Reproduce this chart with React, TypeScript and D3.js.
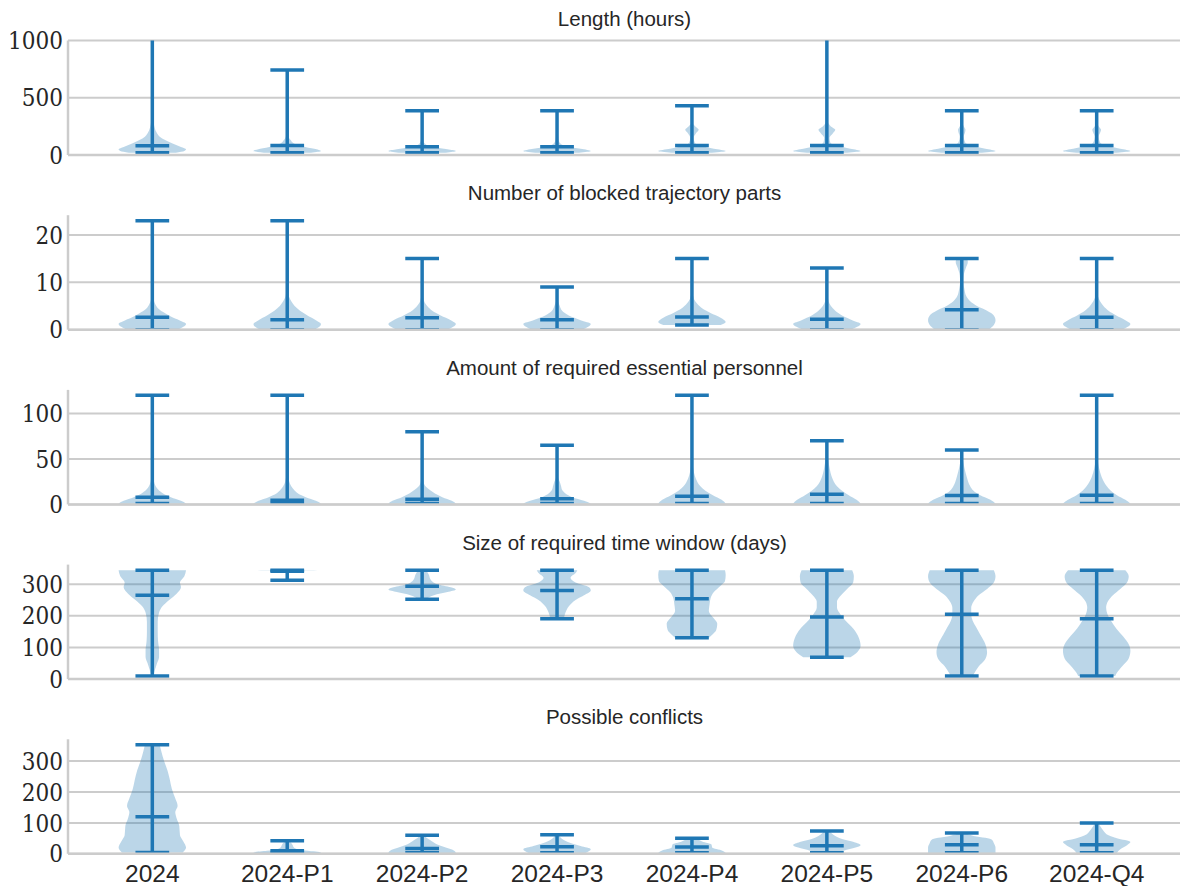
import React from 'react';
import * as d3 from 'd3';

const categories = ['2024', '2024-P1', '2024-P2', '2024-P3', '2024-P4', '2024-P5', '2024-P6', '2024-Q4'];

// Length (hours) -- 2024 and P5 go past the clipped top
const lengthTicks = [0, 500, 1000];
const lengthMin = [20, 20, 20, 20, 20, 20, 20, 20];
const lengthMean = [80, 82, 73, 73, 82, 82, 82, 82];
const lengthMax = [1200, 743, 386, 386, 430, 1200, 386, 386];
// [value, relative half width]
const lengthShape = [
  [[20, 0.7], [35, 0.95], [50, 1], [70, 0.85], [100, 0.6], [130, 0.38], [160, 0.22], [200, 0.12], [250, 0.06], [300, 0.03], [400, 0.012], [600, 0.005], [1200, 0]],
  [[20, 0.7], [35, 1], [55, 0.8], [75, 0.45], [100, 0.2], [130, 0.1], [160, 0.04], [250, 0.01], [743, 0]],
  [[20, 0.7], [35, 1], [50, 0.75], [70, 0.35], [90, 0.12], [120, 0.04], [200, 0.01], [386, 0]],
  [[20, 0.65], [35, 1], [55, 0.7], [75, 0.3], [100, 0.1], [140, 0.04], [250, 0.01], [386, 0]],
  [[20, 0.6], [35, 1], [55, 0.65], [80, 0.25], [110, 0.08], [150, 0.05], [190, 0.12], [220, 0.2], [250, 0.1], [280, 0.02], [430, 0]],
  [[20, 0.6], [35, 1], [55, 0.7], [80, 0.3], [110, 0.1], [150, 0.08], [190, 0.18], [220, 0.25], [250, 0.12], [290, 0.03], [500, 0.005], [1200, 0]],
  [[20, 0.6], [35, 1], [55, 0.7], [80, 0.3], [110, 0.1], [160, 0.06], [200, 0.1], [220, 0.11], [250, 0.06], [290, 0.01], [386, 0]],
  [[20, 0.6], [35, 1], [55, 0.7], [80, 0.3], [110, 0.1], [160, 0.06], [200, 0.11], [220, 0.13], [250, 0.06], [290, 0.01], [386, 0]],
];

// Number of blocked trajectory parts
const blockedTicks = [0, 10, 20];
const blockedMin = [0, 0, 0, 0, 1, 0, 0, 0];
const blockedMean = [2.6, 2.1, 2.5, 2.1, 2.7, 2.2, 4.2, 2.6];
const blockedMax = [23, 23, 15, 9, 15, 13, 15, 15];
const blockedShape = [
  [[0, 0.75], [0.6, 0.92], [1.2, 1], [2, 0.8], [2.8, 0.55], [3.5, 0.37], [4.3, 0.2], [5.2, 0.1], [6.3, 0.04], [9, 0.01], [23, 0]],
  [[0, 0.8], [0.6, 0.95], [1.2, 1], [2, 0.85], [3, 0.6], [4, 0.38], [5, 0.22], [6, 0.12], [7, 0.05], [9, 0.015], [23, 0]],
  [[0, 0.75], [0.6, 0.92], [1.2, 1], [2, 0.85], [3, 0.55], [4, 0.3], [5, 0.15], [6, 0.06], [8, 0.015], [15, 0]],
  [[0, 0.75], [0.6, 0.92], [1.2, 1], [2, 0.7], [3, 0.35], [4, 0.15], [5, 0.08], [6, 0.03], [7, 0.01], [9, 0]],
  [[1, 0.85], [1.6, 1], [2.5, 0.85], [3.5, 0.55], [4.5, 0.3], [5.5, 0.15], [6.5, 0.06], [8, 0.02], [15, 0]],
  [[0, 0.7], [0.6, 0.9], [1.2, 1], [2, 0.75], [3, 0.45], [4, 0.25], [5, 0.12], [6, 0.05], [8, 0.015], [13, 0]],
  [[0, 0.8], [1, 0.95], [2, 1], [3, 0.95], [4, 0.75], [5, 0.45], [6, 0.25], [7, 0.14], [8.5, 0.08], [10, 0.05], [11.5, 0.06], [13, 0.12], [14.3, 0.18], [15, 0.16]],
  [[0, 0.75], [0.6, 0.92], [1.2, 1], [2, 0.85], [3, 0.58], [4, 0.35], [5, 0.2], [6, 0.1], [7, 0.04], [9, 0.01], [15, 0]],
];

// Amount of required essential personnel
const personnelTicks = [0, 50, 100];
const personnelMin = [1, 1, 1, 1, 1, 1, 1, 1];
const personnelMean = [8, 4.7, 5.8, 6.2, 9.1, 11.3, 9.9, 10.2];
const personnelMax = [120, 120, 80, 65, 120, 70, 60, 120];
const personnelShape = [
  [[1, 1], [4, 0.85], [8, 0.55], [12, 0.32], [16, 0.18], [20, 0.1], [25, 0.05], [35, 0.02], [60, 0.008], [120, 0]],
  [[1, 1], [4, 0.85], [8, 0.55], [12, 0.32], [16, 0.2], [20, 0.12], [25, 0.06], [35, 0.02], [60, 0.008], [120, 0]],
  [[1, 1], [4, 0.88], [8, 0.6], [12, 0.38], [16, 0.22], [20, 0.1], [25, 0.04], [35, 0.015], [80, 0]],
  [[1, 1], [4, 0.8], [8, 0.45], [12, 0.25], [16, 0.15], [20, 0.12], [25, 0.08], [30, 0.03], [40, 0.01], [65, 0]],
  [[1, 1], [5, 0.88], [10, 0.62], [15, 0.4], [20, 0.25], [28, 0.12], [35, 0.06], [45, 0.025], [70, 0.008], [120, 0]],
  [[1, 1], [5, 0.88], [10, 0.65], [15, 0.45], [20, 0.3], [30, 0.15], [40, 0.08], [50, 0.04], [60, 0.01], [70, 0]],
  [[1, 1], [5, 0.85], [10, 0.55], [15, 0.35], [20, 0.25], [30, 0.15], [40, 0.08], [50, 0.03], [60, 0]],
  [[1, 1], [5, 0.85], [10, 0.6], [15, 0.42], [20, 0.3], [30, 0.15], [40, 0.07], [50, 0.03], [70, 0.01], [120, 0]],
];

// Size of required time window (days)
const windowTicks = [0, 100, 200, 300];
const windowMin = [10, 312, 252, 191, 131, 69, 10, 10];
const windowMean = [265, 341, 293, 280, 254, 196, 205, 191];
const windowMax = [344, 344, 344, 344, 344, 344, 344, 344];
const windowShape = [
  [[10, 0.03], [30, 0.08], [50, 0.14], [70, 0.2], [90, 0.2], [120, 0.17], [150, 0.16], [180, 0.16], [210, 0.2], [230, 0.3], [250, 0.5], [270, 0.72], [290, 0.85], [305, 0.82], [325, 0.95], [344, 1]],
  [[312, 0], [330, 0.005], [338, 0.03], [341, 0.15], [343, 0.6], [344, 1]],
  [[252, 0.1], [255, 0.15], [265, 0.35], [275, 0.75], [283, 1], [290, 0.85], [300, 0.45], [315, 0.25], [330, 0.2], [344, 0.12]],
  [[191, 0.2], [210, 0.25], [230, 0.35], [250, 0.55], [265, 0.8], [280, 1], [290, 0.95], [305, 0.55], [320, 0.4], [335, 0.55], [344, 0.6]],
  [[131, 0.5], [140, 0.6], [155, 0.72], [175, 0.75], [195, 0.62], [215, 0.5], [235, 0.52], [255, 0.55], [275, 0.65], [295, 0.85], [310, 0.98], [330, 1], [344, 0.98]],
  [[69, 0.7], [85, 0.9], [105, 1], [130, 0.95], [160, 0.78], [185, 0.55], [205, 0.4], [225, 0.3], [245, 0.3], [265, 0.42], [285, 0.6], [305, 0.78], [325, 0.8], [344, 0.75]],
  [[10, 0.33], [20, 0.38], [40, 0.5], [60, 0.68], [85, 0.75], [110, 0.7], [140, 0.55], [165, 0.42], [185, 0.32], [205, 0.28], [225, 0.28], [245, 0.35], [265, 0.5], [285, 0.75], [305, 0.95], [325, 1], [344, 0.95]],
  [[10, 0.55], [20, 0.6], [40, 0.75], [65, 0.95], [90, 1], [110, 0.95], [135, 0.78], [160, 0.58], [185, 0.42], [205, 0.32], [225, 0.28], [245, 0.33], [265, 0.48], [285, 0.7], [305, 0.9], [325, 0.95], [344, 0.85]],
];

// Possible conflicts
const conflictTicks = [0, 100, 200, 300];
const conflictMin = [4, 2, 3, 3, 3, 3, 3, 3];
const conflictMean = [120, 10, 17, 23, 22, 26, 29, 29];
const conflictMax = [353, 42, 60, 62, 50, 74, 67, 100];
const conflictShape = [
  [[4, 0.9], [20, 1], [40, 0.92], [60, 0.82], [90, 0.8], [115, 0.72], [135, 0.68], [155, 0.75], [180, 0.68], [210, 0.58], [240, 0.52], [270, 0.45], [300, 0.35], [330, 0.27], [353, 0.22]],
  [[2, 0.9], [5, 1], [10, 0.6], [15, 0.3], [20, 0.2], [30, 0.15], [38, 0.08], [42, 0]],
  [[3, 1], [10, 0.95], [20, 0.7], [30, 0.45], [40, 0.3], [50, 0.15], [60, 0.05]],
  [[3, 0.85], [15, 1], [25, 0.7], [35, 0.4], [45, 0.2], [62, 0.05]],
  [[3, 1], [10, 0.9], [20, 0.6], [30, 0.58], [40, 0.3], [50, 0.1]],
  [[3, 0.3], [10, 0.5], [20, 0.85], [28, 1], [38, 0.8], [48, 0.45], [58, 0.25], [74, 0.08]],
  [[3, 1], [20, 1], [35, 0.95], [45, 0.9], [52, 0.7], [58, 0.35], [67, 0.1]],
  [[3, 0.6], [15, 0.7], [28, 0.9], [38, 1], [50, 0.6], [60, 0.35], [75, 0.2], [90, 0.1], [100, 0.05]],
];

const panels = [
  { title: 'Length (hours)', ticks: lengthTicks, yTop: 1000, min: lengthMin, mean: lengthMean, max: lengthMax, shape: lengthShape },
  { title: 'Number of blocked trajectory parts', ticks: blockedTicks, yTop: 24.15, min: blockedMin, mean: blockedMean, max: blockedMax, shape: blockedShape },
  { title: 'Amount of required essential personnel', ticks: personnelTicks, yTop: 126, min: personnelMin, mean: personnelMean, max: personnelMax, shape: personnelShape },
  { title: 'Size of required time window (days)', ticks: windowTicks, yTop: 361.7, min: windowMin, mean: windowMean, max: windowMax, shape: windowShape },
  { title: 'Possible conflicts', ticks: conflictTicks, yTop: 370.6, min: conflictMin, mean: conflictMean, max: conflictMax, shape: conflictShape },
];

const W = 1180;
const H = 886;
const left = 68;
const right = 1181;
const firstTop = 40.5;
const rowStep = 174.7;
const plotH = 114.5;
const blue = '#1f77b4';
const gray = '#cccccc';
const textColor = '#262626';

export default function App() {
  const x = d3.scalePoint<string>().domain(categories).range([left, right]).padding(0.625);
  const step = x.step();
  const halfW = step * 0.25;
  const capW = step * 0.125;

  return (
    <svg width={W} height={H} style={{ position: 'absolute', left: 0, top: 0, background: '#fff' }}>
      {panels.map((p, i) => {
        const top = firstTop + i * rowStep;
        const bottom = top + plotH;
        const y = d3.scaleLinear().domain([0, p.yTop]).range([bottom, top]);
        const clipId = `clip-${i}`;
        return (
          <g key={p.title}>
            <defs>
              <clipPath id={clipId}>
                <rect x={left} y={top} width={right - left} height={plotH} />
              </clipPath>
            </defs>
            <text x={(left + right) / 2} y={top - 15} textAnchor="middle" fontFamily="'Liberation Sans', Arial, sans-serif" fontSize={20.5} fill={textColor}>
              {p.title}
            </text>
            {p.ticks.map(t => (
              <g key={t}>
                <line x1={left} x2={right} y1={y(t)} y2={y(t)} stroke={gray} strokeWidth={2} />
                <text x={left - 5} y={y(t)} dy="0.36em" textAnchor="end" fontFamily="'DejaVu Serif Condensed', 'DejaVu Serif', serif" fontStretch="condensed" fontSize={24} fill={textColor}>
                  {t}
                </text>
              </g>
            ))}
            <g clipPath={`url(#${clipId})`}>
              {categories.map((c, j) => {
                const cx = x(c) as number;
                const area = d3.area<number[]>()
                  .y(d => y(d[0]))
                  .x0(d => cx - d[1] * halfW)
                  .x1(d => cx + d[1] * halfW)
                  .curve(d3.curveMonotoneY);
                return <path key={c} d={area(p.shape[j]) || ''} fill={blue} fillOpacity={0.3} />;
              })}
              {categories.map((c, j) => {
                const cx = x(c) as number;
                return (
                  <g key={c} stroke={blue} strokeWidth={3.5}>
                    <line x1={cx} x2={cx} y1={y(p.min[j])} y2={y(p.max[j])} />
                    {[p.min[j], p.mean[j], p.max[j]].map((v, k) => (
                      <line key={k} x1={cx - capW} x2={cx + capW} y1={y(v)} y2={y(v)} />
                    ))}
                  </g>
                );
              })}
            </g>
            <line x1={left} x2={left} y1={top} y2={bottom} stroke={gray} strokeWidth={2.5} />
            <line x1={left} x2={right} y1={bottom} y2={bottom} stroke={gray} strokeWidth={2.5} />
          </g>
        );
      })}
      {categories.map(c => (
        <text key={c} x={x(c) as number} y={882} textAnchor="middle" fontFamily="'Liberation Sans', Arial, sans-serif" fontSize={24.5} fill={textColor}>
          {c}
        </text>
      ))}
    </svg>
  );
}
